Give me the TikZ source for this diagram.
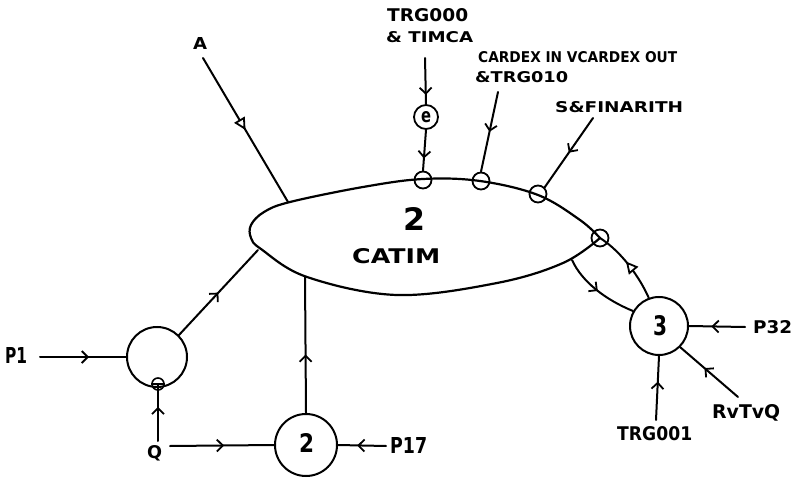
\documentclass[tikz,border=0pt]{standalone}
\usepackage{fontspec}
\usepackage{graphicx}
\setmainfont{DejaVu Sans}
\usetikzlibrary{arrows.meta,decorations.markings}
\newcommand{\fitlbl}[3]{\resizebox{#1pt}{#2pt}{\bfseries #3}}
\tikzset{
  ln/.style={line width=2pt, line cap=round, line join=round},
  bigc/.style={circle, draw, line width=2pt, inner sep=0pt},
  mk/.style={circle, draw, line width=1.8pt, inner sep=0pt, minimum size=17pt},
  lbl/.style={anchor=base west, inner sep=0pt},
  midarr/.style={postaction={decorate}, decoration={markings,
      mark=at position #1 with {\arrow{Straight Barb[length=6pt,width=12pt,line width=1.8pt]}}}},
  midtri/.style={postaction={decorate}, decoration={markings,
      mark=at position #1 with {\arrow{Triangle[open,fill=white,length=12pt,width=12pt,line width=1.8pt]}}}},
}
\begin{document}
\begin{tikzpicture}[x=1pt,y=-1pt]
\useasboundingbox (0,0) rectangle (797,478);

% leaf-shaped process 2 CATIM
\draw[ln, line width=2.2pt] plot[smooth, tension=0.6] coordinates {
  (600,238) (580,220) (538,195) (480,181) (423,179) (363,187) (290,202)
  (264,212) (251,225) (251,238) (261,249) (307,277) (397,295) (497,283)
  (563,263) (600,238)};
\node[lbl] (n2) at (403,230) {\fitlbl{22}{23}{2}};
\node[lbl] (catim) at (352,263) {\fitlbl{88}{15}{CATIM}};

% attachment points on the leaf
\coordinate (LA) at (288,202);
\coordinate (LP1) at (258,250);
\coordinate (LC2) at (305,277);
\coordinate (LB) at (572,260);

% markers on the leaf boundary
\node[mk] (m1) at (423,180) {};
\node[mk] (m2) at (481,181) {};
\node[mk] (m3) at (538,194) {};
\node[mk] (m4) at (600,238) {};

% circles
\node[bigc, minimum size=60pt] (c1) at (157,357) {};
\node[bigc, minimum size=62pt] (c2) at (306,445) {};
\node[bigc, minimum size=58pt] (c3) at (659,326) {};
\node[lbl] (t2) at (299,452) {\fitlbl{15}{19}{2}};
\node[lbl] (t3) at (653,335) {\fitlbl{14}{20}{3}};
\node[circle, draw, line width=1.8pt, inner sep=0pt, minimum size=24pt] (e) at (426,117) {\fitlbl{10}{11}{e}};
\node[circle, draw, line width=1.6pt, inner sep=0pt, minimum size=12pt] (mq) at (158,384) {};
\draw[line width=1.6pt] (mq.west) -- (mq.east);

% labels
\node[lbl] (A) at (193,50) {\fitlbl{14}{12}{A}};
\node[lbl] (trg000) at (387,22) {\fitlbl{81}{13}{TRG000}};
\node[lbl] (timca) at (386,43) {\fitlbl{87}{11}{\& TIMCA}};
\node[lbl] (cardex) at (478,63) {\fitlbl{199}{11}{CARDEX IN VCARDEX OUT}};
\node[lbl] (trg010) at (475,83) {\fitlbl{93}{11}{\&TRG010}};
\node[lbl] (sfin) at (555,113) {\fitlbl{128}{11}{S\&FINARITH}};
\node[lbl] (P1) at (5,363) {\fitlbl{22}{16}{P1}};
\node[lbl] (Q) at (147,458) {\fitlbl{15}{13}{Q}};
\node[lbl] (P17) at (390,453) {\fitlbl{37}{16}{P17}};
\node[lbl] (P32) at (753,333) {\fitlbl{39}{13}{P32}};
\node[lbl] (trg001) at (617,440) {\fitlbl{75}{14}{TRG001}};
\node[lbl] (rvtvq) at (712,418) {\fitlbl{68}{14}{RvTvQ}};

% free ends of connectors
\coordinate (sA) at (203,58);
\coordinate (sT0) at (425,58);
\coordinate (sCD) at (498,92);
\coordinate (sSF) at (593,118);
\coordinate (sP1) at (40,357);
\coordinate (sQv) at (158,441);
\coordinate (sQh) at (170,446);
\coordinate (sP17) at (386,446);
\coordinate (sP32) at (745,327);
\coordinate (sT1) at (656,420);
\coordinate (sR) at (738,397);

% connectors
\draw[ln, midtri=0.5] (sA) -- (LA);
\draw[ln, midarr=0.8] (sT0) -- (e.north);
\draw[ln, midarr=0.7] (e.south) -- (m1.north);
\draw[ln, midarr=0.5] (sCD) -- (m2.north);
\draw[ln, midarr=0.5] (sSF) -- (m3.north east);
\draw[ln, midarr=0.57] (sP1) -- (c1.west);
\draw[ln, midarr=0.5] (c1.45) -- (LP1);
\draw[ln, midarr=0.6] (sQv) -- (mq.center);
\draw[ln, midarr=0.52] (sQh) -- (c2.west);
\draw[ln, midarr=0.43] (c2.north) -- (LC2);
\draw[ln, midarr=0.6] (sP17) -- (c2.east);
\draw[ln, midtri=0.55] (c3.110) .. controls (640,278) and (622,252) .. (m4.center);
\draw[ln, midarr=0.5] (LB) .. controls (582,282) and (606,300) .. (c3.150);
\draw[ln, midarr=0.6] (sP32) -- (c3.east);
\draw[ln, midarr=0.6] (sT1) -- (c3.south);
\draw[ln, midarr=0.58] (sR) -- (c3.-45);
\end{tikzpicture}
\end{document}
